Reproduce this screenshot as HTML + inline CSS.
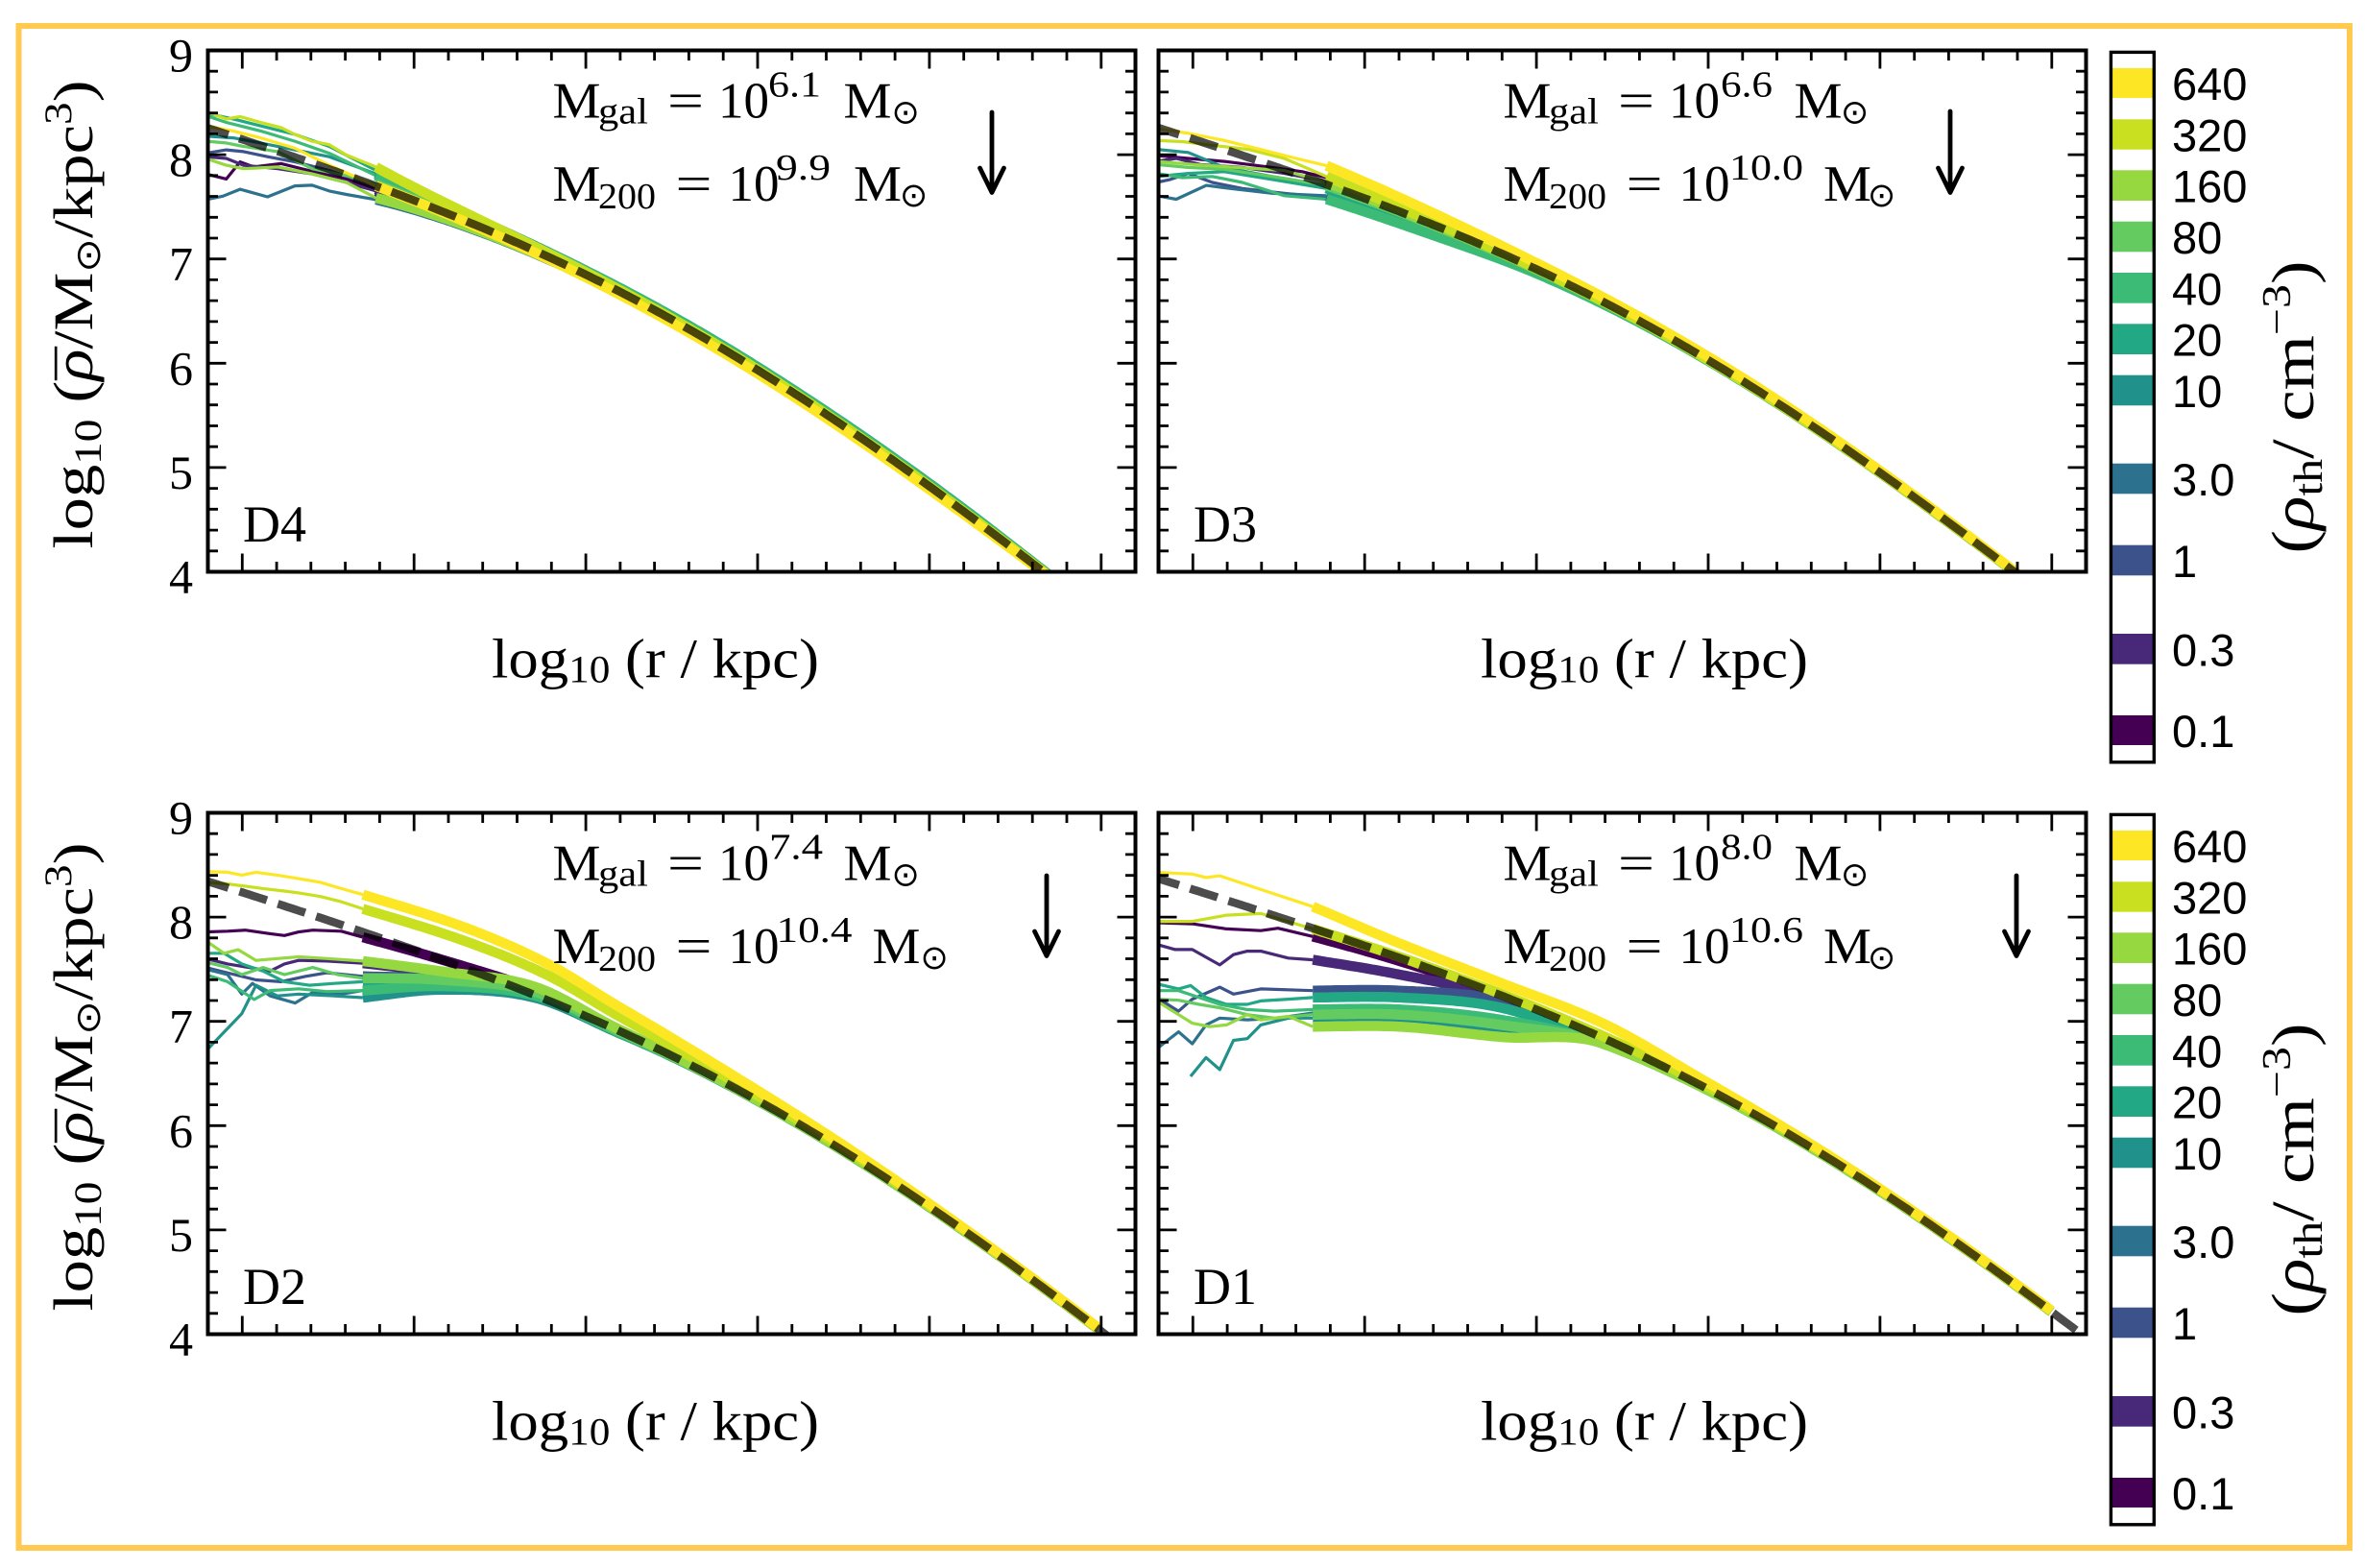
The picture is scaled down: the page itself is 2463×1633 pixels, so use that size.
<!DOCTYPE html>
<html><head><meta charset="utf-8">
<style>
html,body{margin:0;padding:0;background:#fff;}
svg{display:block;}
.s{font-family:"Liberation Serif","DejaVu Serif",serif;fill:#000;}
.ss{font-family:"Liberation Sans","DejaVu Sans",sans-serif;fill:#000;}
.sym{font-family:"DejaVu Sans","Liberation Serif",sans-serif;fill:#000;}
</style></head><body>
<svg id="c" xmlns="http://www.w3.org/2000/svg" width="2463" height="1633" viewBox="0 0 2463 1633">
<rect width="2463" height="1633" fill="#fff"/>
<defs id="defs"></defs>
<g id="curves"></g>
<g id="frames"></g>

<!-- orange outer border -->
<rect x="19.5" y="27" width="2427.5" height="1585" fill="none" stroke="#FFCA4F" stroke-width="6"/>

<!-- Y tick labels -->
<g class="s" font-size="50" text-anchor="end">
<text x="201" y="74.5">9</text><text x="201" y="183.1">8</text><text x="201" y="291.7">7</text>
<text x="201" y="400.3">6</text><text x="201" y="508.9">5</text><text x="201" y="617.5">4</text>
<text x="201" y="868.5">9</text><text x="201" y="977.1">8</text><text x="201" y="1085.7">7</text>
<text x="201" y="1194.3">6</text><text x="201" y="1302.9">5</text><text x="201" y="1411.5">4</text>
</g>

<!-- Y axis labels -->
<text class="s" font-size="58" text-anchor="middle" textLength="488" lengthAdjust="spacingAndGlyphs" transform="translate(96,327.5) rotate(-90)">log<tspan font-size="40" dy="9">10</tspan><tspan dy="-9"> (</tspan><tspan font-style="italic">ρ</tspan><tspan dx="-27" dy="5">¯</tspan><tspan dx="-2" dy="-5">/M</tspan><tspan class="sym" font-size="36" dy="8">⊙</tspan><tspan dy="-8">/kpc</tspan><tspan font-size="40" dy="-22">3</tspan><tspan dy="22">)</tspan></text>
<text class="s" font-size="58" text-anchor="middle" textLength="488" lengthAdjust="spacingAndGlyphs" transform="translate(96,1121.5) rotate(-90)">log<tspan font-size="40" dy="9">10</tspan><tspan dy="-9"> (</tspan><tspan font-style="italic">ρ</tspan><tspan dx="-27" dy="5">¯</tspan><tspan dx="-2" dy="-5">/M</tspan><tspan class="sym" font-size="36" dy="8">⊙</tspan><tspan dy="-8">/kpc</tspan><tspan font-size="40" dy="-22">3</tspan><tspan dy="22">)</tspan></text>

<!-- X axis labels -->
<g class="s" font-size="58">
<text x="512" y="705.6" textLength="341" lengthAdjust="spacingAndGlyphs">log<tspan font-size="40" dy="5">10</tspan><tspan dy="-5"> (r / kpc)</tspan></text>
<text x="1542" y="705.6" textLength="341" lengthAdjust="spacingAndGlyphs">log<tspan font-size="40" dy="5">10</tspan><tspan dy="-5"> (r / kpc)</tspan></text>
<text x="512" y="1499.6" textLength="341" lengthAdjust="spacingAndGlyphs">log<tspan font-size="40" dy="5">10</tspan><tspan dy="-5"> (r / kpc)</tspan></text>
<text x="1542" y="1499.6" textLength="341" lengthAdjust="spacingAndGlyphs">log<tspan font-size="40" dy="5">10</tspan><tspan dy="-5"> (r / kpc)</tspan></text>
</g>

<!-- Panel labels -->
<g class="s" font-size="54">
<text x="253" y="564">D4</text>
<text x="1243" y="564">D3</text>
<text x="253" y="1358">D2</text>
<text x="1243" y="1358">D1</text>
</g>

<!-- Annotations D4 (L=216.5,T=52.5) -->
<g class="s">
<text x="575.5" y="122.5" font-size="53" textLength="50" lengthAdjust="spacingAndGlyphs">M</text>
<text x="623" y="128.5" font-size="38" textLength="52" lengthAdjust="spacingAndGlyphs">gal</text>
<text x="695" y="122.5" font-size="52" textLength="38" lengthAdjust="spacingAndGlyphs">=</text>
<text x="748" y="122.5" font-size="53">10</text>
<text x="800" y="100.5" font-size="38" textLength="55" lengthAdjust="spacingAndGlyphs">6.1</text>
<text x="878.5" y="122.5" font-size="53" textLength="50" lengthAdjust="spacingAndGlyphs">M</text>
<text class="sym" x="928.5" y="128.5" font-size="35">⊙</text>

<text x="575.5" y="209" font-size="53" textLength="50" lengthAdjust="spacingAndGlyphs">M</text>
<text x="623" y="217" font-size="38" textLength="60" lengthAdjust="spacingAndGlyphs">200</text>
<text x="703.5" y="209" font-size="52" textLength="38" lengthAdjust="spacingAndGlyphs">=</text>
<text x="758.5" y="209" font-size="53">10</text>
<text x="808" y="187" font-size="38" textLength="57" lengthAdjust="spacingAndGlyphs">9.9</text>
<text x="889" y="209" font-size="53" textLength="50" lengthAdjust="spacingAndGlyphs">M</text>
<text class="sym" x="937" y="215" font-size="35">⊙</text>
</g>

<!-- Annotations D3 (L=1206.5,T=52.5) -->
<g class="s">
<text x="1565.5" y="122.5" font-size="53" textLength="50" lengthAdjust="spacingAndGlyphs">M</text>
<text x="1613" y="128.5" font-size="38" textLength="52" lengthAdjust="spacingAndGlyphs">gal</text>
<text x="1685" y="122.5" font-size="52" textLength="38" lengthAdjust="spacingAndGlyphs">=</text>
<text x="1738" y="122.5" font-size="53">10</text>
<text x="1792" y="100.5" font-size="38" textLength="54" lengthAdjust="spacingAndGlyphs">6.6</text>
<text x="1868.5" y="122.5" font-size="53" textLength="50" lengthAdjust="spacingAndGlyphs">M</text>
<text class="sym" x="1917" y="128.5" font-size="35">⊙</text>

<text x="1565.5" y="209" font-size="53" textLength="50" lengthAdjust="spacingAndGlyphs">M</text>
<text x="1613" y="217" font-size="38" textLength="60" lengthAdjust="spacingAndGlyphs">200</text>
<text x="1693.5" y="209" font-size="52" textLength="38" lengthAdjust="spacingAndGlyphs">=</text>
<text x="1748.5" y="209" font-size="53">10</text>
<text x="1801" y="187" font-size="38" textLength="77" lengthAdjust="spacingAndGlyphs">10.0</text>
<text x="1899" y="209" font-size="53" textLength="50" lengthAdjust="spacingAndGlyphs">M</text>
<text class="sym" x="1945" y="215" font-size="35">⊙</text>
</g>

<!-- Annotations D2 (L=216.5,T=846.5) -->
<g class="s">
<text x="575.5" y="916.5" font-size="53" textLength="50" lengthAdjust="spacingAndGlyphs">M</text>
<text x="623" y="922.5" font-size="38" textLength="52" lengthAdjust="spacingAndGlyphs">gal</text>
<text x="695" y="916.5" font-size="52" textLength="38" lengthAdjust="spacingAndGlyphs">=</text>
<text x="748" y="916.5" font-size="53">10</text>
<text x="801" y="894.5" font-size="38" textLength="56" lengthAdjust="spacingAndGlyphs">7.4</text>
<text x="878.5" y="916.5" font-size="53" textLength="50" lengthAdjust="spacingAndGlyphs">M</text>
<text class="sym" x="928.5" y="922.5" font-size="35">⊙</text>

<text x="575.5" y="1003" font-size="53" textLength="50" lengthAdjust="spacingAndGlyphs">M</text>
<text x="623" y="1011" font-size="38" textLength="60" lengthAdjust="spacingAndGlyphs">200</text>
<text x="703.5" y="1003" font-size="52" textLength="38" lengthAdjust="spacingAndGlyphs">=</text>
<text x="758.5" y="1003" font-size="53">10</text>
<text x="808.5" y="981" font-size="38" textLength="79" lengthAdjust="spacingAndGlyphs">10.4</text>
<text x="908.5" y="1003" font-size="53" textLength="50" lengthAdjust="spacingAndGlyphs">M</text>
<text class="sym" x="958.5" y="1009" font-size="35">⊙</text>
</g>

<!-- Annotations D1 (L=1206.5,T=846.5) -->
<g class="s">
<text x="1565.5" y="916.5" font-size="53" textLength="50" lengthAdjust="spacingAndGlyphs">M</text>
<text x="1613" y="922.5" font-size="38" textLength="52" lengthAdjust="spacingAndGlyphs">gal</text>
<text x="1685" y="916.5" font-size="52" textLength="38" lengthAdjust="spacingAndGlyphs">=</text>
<text x="1738" y="916.5" font-size="53">10</text>
<text x="1792" y="894.5" font-size="38" textLength="54" lengthAdjust="spacingAndGlyphs">8.0</text>
<text x="1868.5" y="916.5" font-size="53" textLength="50" lengthAdjust="spacingAndGlyphs">M</text>
<text class="sym" x="1917" y="922.5" font-size="35">⊙</text>

<text x="1565.5" y="1003" font-size="53" textLength="50" lengthAdjust="spacingAndGlyphs">M</text>
<text x="1613" y="1011" font-size="38" textLength="60" lengthAdjust="spacingAndGlyphs">200</text>
<text x="1693.5" y="1003" font-size="52" textLength="38" lengthAdjust="spacingAndGlyphs">=</text>
<text x="1748.5" y="1003" font-size="53">10</text>
<text x="1801" y="981" font-size="38" textLength="77" lengthAdjust="spacingAndGlyphs">10.6</text>
<text x="1899" y="1003" font-size="53" textLength="50" lengthAdjust="spacingAndGlyphs">M</text>
<text class="sym" x="1945" y="1009" font-size="35">⊙</text>
</g>

<!-- Arrows -->
<g fill="none" stroke="#000" stroke-width="4.8" stroke-linecap="round" stroke-linejoin="round">
<path d="M1033 117V200M1020.5 175L1033 200.5L1045.5 175"/>
<path d="M2031 116V200M2018.5 175L2031 200.5L2043.5 175"/>
<path d="M1090 912V995M1077.5 970L1090 995.5L1102.5 970"/>
<path d="M2100 912V995M2087.5 970L2100 995.5L2112.5 970"/>
</g>

<!-- Colorbars -->
<g id="cb1">
<rect x="2200" y="71" width="42" height="31" fill="#FDE725"/>
<rect x="2200" y="124.3" width="42" height="31.4" fill="#C8E020"/>
<rect x="2200" y="177.3" width="42" height="31.7" fill="#95D840"/>
<rect x="2200" y="230.7" width="42" height="31.6" fill="#63CB5F"/>
<rect x="2200" y="284" width="42" height="31.7" fill="#3BBB75"/>
<rect x="2200" y="337.3" width="42" height="31.7" fill="#22A884"/>
<rect x="2200" y="390.7" width="42" height="31.6" fill="#21918C"/>
<rect x="2200" y="482.7" width="42" height="31.6" fill="#2C728E"/>
<rect x="2200" y="567.7" width="42" height="31.6" fill="#3B528B"/>
<rect x="2200" y="660" width="42" height="31.7" fill="#482878"/>
<rect x="2200" y="745" width="42" height="31" fill="#440154"/>
<rect x="2198.4" y="54.4" width="44.9" height="739.4" fill="none" stroke="#000" stroke-width="3.4"/>
<g class="ss" font-size="47">
<text x="2262" y="104">640</text><text x="2262" y="157.5">320</text><text x="2262" y="210.7">160</text>
<text x="2262" y="264">80</text><text x="2262" y="317.4">40</text><text x="2262" y="370.7">20</text>
<text x="2262" y="424">10</text><text x="2262" y="516">3.0</text><text x="2262" y="601">1</text>
<text x="2262" y="693.4">0.3</text><text x="2262" y="778">0.1</text>
</g>
<text class="s" font-size="62" text-anchor="middle" textLength="305" lengthAdjust="spacingAndGlyphs" transform="translate(2409,424) rotate(-90)">(<tspan font-style="italic">ρ</tspan><tspan font-size="42" dy="9">th</tspan><tspan dy="-9">/ cm</tspan><tspan font-size="42" dy="-24">−3</tspan><tspan dy="24">)</tspan></text>
</g>
<use href="#cb1" transform="translate(0,794)"/>
</svg>

<script>
(function(){
const NS='http://www.w3.org/2000/svg';
const SX=357.8, SY=108.6, W=966, H=543;
function mk(tag,a,par){const e=document.createElementNS(NS,tag);for(const k in a)e.setAttribute(k,a[k]);par.appendChild(e);return e;}
function logf(lc){const c=Math.pow(10,lc);return Math.log10((Math.log(1+c)-c/(1+c))/(c*c*c));}
const C={'01':'#440154','03':'#482878','1':'#3B528B','3':'#2C728E','10':'#21918C','20':'#22A884','40':'#3BBB75','80':'#63CB5F','160':'#95D840','320':'#C8E020','640':'#FDE725'};
const ORDER=['01','03','1','3','10','20','40','80','160','320','640'];
const defs=document.getElementById('defs');
const gc=document.getElementById('curves');
const gf=document.getElementById('frames');

const coreD2=ys=>[[-0.42,ys*0.5+7.38*0.5,1],[-0.15,7.28+(ys-7.4)*0.3,1],[0.1,6.90+(ys-7.4)*0.1,1]];
const coreD1=ys=>[[-0.4,ys,1],[-0.1,ys-0.1,1],[0.2,6.78,1]];

const panels=[
{id:4,L:216.5,T:52.5,A:7.381,xs:0.11,xb:-0.611,xe:1.7,Ld:0.3,z:{ox:200,oy:40,s:2.8},
 thin:{
 '01':[[50,395],[100,410],[140,360],[180,375],[260,365],[340,385],[450,410],[535,440]],
 '03':[[50,345],[100,350],[150,370],[250,380],[350,395],[450,420],[535,445]],
 '1':[[50,335],[100,325],[150,330],[220,345],[300,360],[400,385],[535,430]],
 '3':[[50,470],[90,460],[140,440],[220,462],[300,430],[350,428],[400,445],[450,455],[535,470]],
 '10':[[50,285],[120,290],[200,305],[300,325],[400,345],[535,395]],
 '20':[[50,218],[120,235],[200,255],[300,280],[400,315],[535,385]],
 '40':[[50,225],[100,245],[200,270],[300,300],[400,335],[535,400]],
 '80':[[50,300],[100,305],[150,315],[250,330],[350,380],[450,400],[535,425]],
 '160':[[50,350],[100,370],[150,380],[250,375],[350,395],[450,420],[535,465]],
 '320':[[50,213],[100,235],[140,228],[200,245],[260,260],[300,280],[350,300],[400,310],[450,340],[535,375]],
 '640':[[50,255],[120,270],[200,290],[300,320],[400,370],[535,430]]},
 thick:{'640':[[0.2,-0.03],[1.2,-0.02]],'20':[[-0.3,0.06],[0.5,0.03],[1.2,0.02]],'40':[[-0.3,0.05],[0.5,0.025],[1.2,0.015]]}},
{id:3,L:1206.5,T:52.5,A:7.276,xs:0.21,xb:-0.611,xe:1.7,Ld:0.3,z:{ox:1200,oy:40,s:1.6},
 thin:{
 '01':[[10,195],[60,200],[120,205],[200,215],[250,222],[290,232]],
 '03':[[10,205],[40,200],[80,210],[150,215],[220,225],[290,238]],
 '1':[[10,240],[30,235],[60,225],[100,240],[150,250],[220,258],[290,265]],
 '3':[[10,262],[40,268],[90,245],[130,250],[200,258],[290,262]],
 '10':[[10,185],[60,190],[120,215],[200,230],[290,245]],
 '20':[[10,230],[60,225],[120,222],[200,235],[290,250]],
 '40':[[10,225],[50,232],[100,230],[150,240],[220,262],[290,268]],
 '80':[[10,210],[60,215],[120,218],[200,230],[290,245]],
 '160':[[10,205],[70,210],[140,215],[220,220],[290,240]],
 '320':[[10,170],[50,172],[100,178],[160,185],[220,200],[290,230]],
 '640':[[10,150],[60,158],[120,170],[180,185],[240,200],[290,212]]},
 thick:{'640':[[0.0,0.06],[0.8,0.025],[1.3,0.01]],'40':[[-0.3,-0.1],[0.0,-0.04]],'20':[[-0.3,-0.08],[0.0,-0.03]]}},
{id:2,L:216.5,T:846.5,A:7.203,xs:0.36,xb:-0.649,xe:1.5,Ld:0.18,z:{ox:200,oy:830,s:2.703},
 thin:{
 '01':[[50,380],[100,378],[150,375],[220,385],[260,390],[300,380],[340,375],[420,378],[480,395]],
 '03':[[50,455],[100,470],[160,480],[220,490],[260,470],[300,460],[380,462],[480,468]],
 '1':[[50,480],[120,500],[180,515],[250,520],[320,505],[380,495],[480,505]],
 '3':[[50,485],[100,500],[140,555],[170,525],[220,560],[290,580],[340,550],[420,555],[480,545]],
 '10':[[55,715],[140,610],[180,530],[240,560],[300,555],[400,560],[480,565]],
 '20':[[50,440],[90,440],[140,470],[200,490],[260,520],[330,530],[400,525],[480,520]],
 '40':[[50,500],[100,520],[175,570],[220,545],[300,540],[380,548],[480,545]],
 '80':[[50,465],[100,480],[140,500],[200,480],[260,500],[340,480],[410,500],[480,510]],
 '160':[[50,405],[90,440],[130,430],[180,460],[240,455],[300,450],[380,455],[480,462]],
 '320':[[50,240],[100,245],[140,250],[200,258],[260,265],[300,270],[360,280],[420,295],[480,315]],
 '640':[[50,210],[100,212],[140,220],[180,212],[240,220],[300,230],[360,240],[420,258],[480,275]]},
 thick:{'640':[[-0.35,0.39],[-0.111,0.35],[0.1,0.23],[0.48,0.1],[1.0,0.03],[1.5,0.01]],
  '320':[[-0.35,0.26],[-0.111,0.24],[0.1,0.14],[0.48,0.05],[1.0,0.015]],
  '01':[[-0.42,0.0],[-0.111,0.055],[0.15,0]],
  '03':coreD2,'1':coreD2,'3':coreD2,'10':coreD2,'20':coreD2,'40':coreD2,'80':coreD2,'160':coreD2}},
{id:1,L:1206.5,T:846.5,A:7.115,xs:0.47,xb:-0.651,xe:1.5,Ld:0.18,z:{ox:1206,oy:846,s:2.8},
 thin:{
 '01':[[10,322],[100,325],[200,340],[300,345],[350,338],[450,362]],
 '03':[[10,385],[50,400],[100,400],[180,445],[220,415],[260,405],[300,405],[380,425],[450,430]],
 '1':[[10,540],[60,580],[100,545],[180,510],[220,530],[300,515],[450,520]],
 '3':[[10,690],[60,640],[100,675],[140,620],[180,600],[260,605],[350,600],[450,585]],
 '10':[[95,770],[140,715],[180,750],[220,665],[260,660],[300,620],[380,600],[450,600]],
 '20':[[10,500],[60,515],[95,505],[140,540],[200,560],[260,560],[300,550],[380,545],[450,540]],
 '40':[[10,520],[60,520],[120,540],[180,560],[260,575],[340,580],[450,575]],
 '80':[[10,545],[60,548],[120,560],[180,570],[260,590],[340,600],[450,590]],
 '160':[[10,550],[60,590],[100,615],[150,625],[200,620],[260,590],[300,605],[380,595],[450,625]],
 '320':[[10,318],[100,318],[200,300],[300,295],[450,340]],
 '640':[[10,175],[100,180],[140,190],[180,185],[300,225],[450,275]]},
 thick:{'640':[[-0.4,0.14],[-0.1,0.12],[0.2,0.14],[0.5,0.06],[1.0,0.02],[1.5,0.01]],
  '320':[[-0.4,0.01],[1.0,0.01]],
  '01':[[-0.4,-0.03],[-0.1,0]],
  '03':[[-0.4,7.45,1],[-0.1,7.22,1]],
  '1':coreD1,'3':coreD1,'10':coreD1,'20':coreD1,'40':coreD1,'80':coreD1,'160':coreD1}}
];

function makeOff(cps,Ld){
 const n=cps.length;
 const xs=cps.map(c=>c[0]), ys=cps.map(c=>c[1]);
 const m=new Array(n);
 for(let i=0;i<n;i++){
  if(n===1){m[i]=-ys[0]/Ld;}
  else if(i===0){m[i]=(ys[1]-ys[0])/(xs[1]-xs[0]);}
  else if(i===n-1){m[i]=-ys[i]/Ld;}
  else {m[i]=(ys[i+1]-ys[i-1])/(xs[i+1]-xs[i-1]);}
 }
 return function(x){
  if(x<=xs[0]) return ys[0];
  for(let i=1;i<n;i++){
   if(x<=xs[i]){
    const h=xs[i]-xs[i-1], t=(x-xs[i-1])/h;
    const t2=t*t, t3=t2*t;
    return (2*t3-3*t2+1)*ys[i-1]+(t3-2*t2+t)*h*m[i-1]+(-2*t3+3*t2)*ys[i]+(t3-t2)*h*m[i];
   }
  }
  return ys[n-1]*Math.exp(-(x-xs[n-1])/Ld);
 };
}

function build(p){
 const cid='clip'+p.id;
 const cp=mk('clipPath',{id:cid},defs);
 mk('rect',{x:p.L,y:p.T,width:W,height:H},cp);
 const gg=mk('g',{'clip-path':'url(#'+cid+')'},gc);
 const nf=x=>p.A+logf(x-p.xs);
 const X=x=>p.L+(x+1.1)*SX, Y=y=>p.T+(9-y)*SY;
 const zX=v=>p.z.ox+v/p.z.s, zY=v=>p.z.oy+v/p.z.s;
 const toY=py=>9-(py-p.T)/SY;
 const thick=[];
 ORDER.forEach(k=>{
  const pts=p.thin[k]; if(!pts) return;
  let d='';
  pts.forEach((q,i)=>{
   let x=zX(q[0]);
   if(i===0 && q[0]<=60) x=p.L-2;
   if(i===pts.length-1) x=X(p.xb);
   d+=(i?'L':'M')+x.toFixed(1)+' '+zY(q[1]).toFixed(1);
  });
  mk('path',{d:d,fill:'none',stroke:C[k],'stroke-width':3.2,'stroke-linejoin':'round'},gg);
  const ys=toY(zY(pts[pts.length-1][1]));
  let ctr=p.thick[k]; if(typeof ctr==='function') ctr=ctr(ys); ctr=ctr||[];
  const cps=[[p.xb,ys-nf(p.xb)]].concat(ctr.map(c=>[c[0],c[2]?c[1]-nf(c[0]):c[1]]));
  const off=makeOff(cps,p.Ld);
  let d2='';
  for(let i=0;;i++){
   const x=p.xb+0.01*i; if(x>p.xe+1e-9) break;
   const y=nf(x)+off(x);
   d2+=(i?'L':'M')+X(x).toFixed(1)+' '+Y(y).toFixed(1);
   if(y<3.8) break;
  }
  thick.push([k,d2]);
 });
 thick.forEach(t=>mk('path',{d:t[1],fill:'none',stroke:C[t[0]],'stroke-width':10.5,'stroke-linejoin':'round'},gg));
 let dd='';
 for(let i=0;;i++){
  const x=-1.12+0.01*i; if(x>1.7) break;
  const y=nf(x);
  dd+=(i?'L':'M')+X(x).toFixed(1)+' '+Y(y).toFixed(1);
  if(y<3.8) break;
 }
 mk('path',{d:dd,fill:'none',stroke:'#000','stroke-opacity':0.7,'stroke-width':8.5,'stroke-dasharray':'30 12'},gg);
}

function frame(p){
 const R=p.L+W, B=p.T+H;
 let d='';
 const maj=[-1,-0.5,0,0.5,1,1.5];
 for(let k=1;k<=26;k++){
  const x=-1.1+0.1*k;
  const isM=maj.some(m=>Math.abs(m-x)<1e-6);
  const len=isM?19:10.5;
  const px=(p.L+(x+1.1)*SX).toFixed(1);
  d+='M'+px+' '+B+'v'+(-len)+'M'+px+' '+p.T+'v'+len;
 }
 for(let k=0;k<=25;k++){
  const y=4+0.2*k;
  const isM=Math.abs(y-Math.round(y))<1e-6;
  const len=isM?19:10.5;
  const py=(p.T+(9-y)*SY).toFixed(1);
  d+='M'+p.L+' '+py+'h'+len+'M'+R+' '+py+'h'+(-len);
 }
 mk('path',{d:d,stroke:'#000','stroke-width':2.8,fill:'none'},gf);
 mk('rect',{x:p.L,y:p.T,width:W,height:H,fill:'none',stroke:'#000','stroke-width':4},gf);
}

panels.forEach(p=>{try{build(p);}catch(e){} frame(p);});
})();
</script>
</body></html>
